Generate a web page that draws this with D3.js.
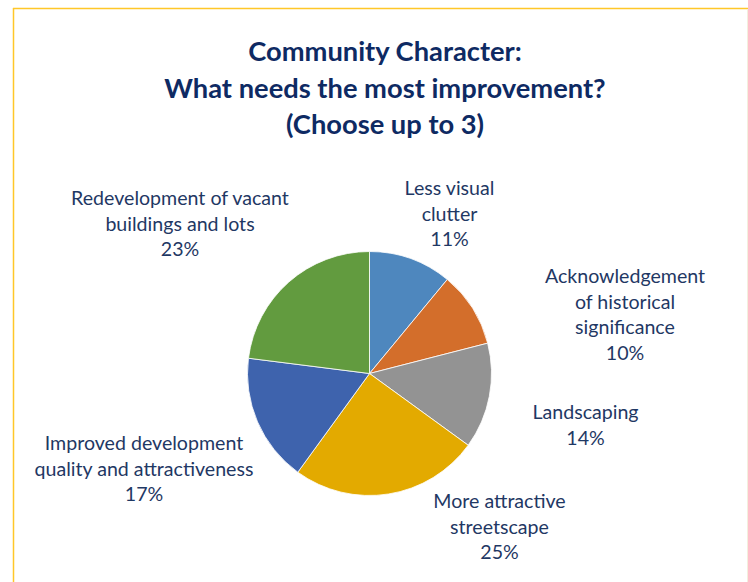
<!DOCTYPE html>
<html>
<head>
<meta charset="utf-8">
<script src="https://cdn.jsdelivr.net/npm/d3@7"></script>
<style>
  html, body { margin: 0; padding: 0; background: #fff; }
  svg { display: block; }
</style>
</head>
<body>
<svg id="chart" width="748" height="582"></svg>
<script>
// Survey answers, clockwise from 12 o'clock
const categories = [
  ["Less visual", "clutter"],
  ["Acknowledgement", "of historical", "significance"],
  ["Landscaping"],
  ["More attractive", "streetscape"],
  ["Improved development", "quality and attractiveness"],
  ["Redevelopment of vacant", "buildings and lots"]
];
const values = [11, 10, 14, 25, 17, 23];
const colors = ["#4E87BE", "#D36E2B", "#939393", "#E3AA00", "#3E63AD", "#629B3F"];
// Label anchor (centre x, first baseline y)
const labelPos = [
  [449.5, 195], [625, 283], [585.5, 419], [499.5, 508], [144, 450], [180, 205]
];
const titleLines = ["Community Character:", "What needs the most improvement?", "(Choose up to 3)"];

const svg = d3.select("#chart");

// frame
svg.append("line").attr("x1", 13.5).attr("x2", 13.5).attr("y1", 8).attr("y2", 582)
  .attr("stroke", "#FFC729").attr("stroke-width", 1.5);
svg.append("line").attr("x1", 13).attr("x2", 748).attr("y1", 8.5).attr("y2", 8.5)
  .attr("stroke", "#FFC729").attr("stroke-width", 1.5);
svg.append("line").attr("x1", 747.5).attr("x2", 747.5).attr("y1", 9).attr("y2", 582)
  .attr("stroke", "#F3EFDD").attr("stroke-width", 1);

// title
svg.append("g").selectAll("text").data(titleLines).join("text")
  .attr("x", 385).attr("y", (d, i) => 61 + i * 36.5)
  .attr("text-anchor", "middle")
  .attr("font-family", "Lato, 'Open Sans', sans-serif")
  .attr("font-weight", 700).attr("font-size", 27.3)
  .attr("fill", "#0E2A63")
  .text(d => d);

// pie
const cx = 369.5, cy = 373.5, r = 122;
const pie = d3.pie().sort(null).value(d => d)(values);
const arc = d3.arc().innerRadius(0).outerRadius(r);
const g = svg.append("g").attr("transform", `translate(${cx},${cy})`);
g.selectAll("path").data(pie).join("path")
  .attr("d", arc)
  .attr("fill", (d, i) => colors[i])
  .attr("stroke", "#fff").attr("stroke-width", 0.8);

// labels
const labels = svg.append("g")
  .attr("font-family", "Lato, 'Open Sans', sans-serif")
  .attr("font-size", 19.6).attr("fill", "#1F3864")
  .attr("text-anchor", "middle");
categories.forEach((lines, i) => {
  const t = labels.append("text");
  const all = lines.concat([values[i] + "%"]);
  all.forEach((ln, j) => {
    t.append("tspan").attr("x", labelPos[i][0]).attr("y", labelPos[i][1] + j * 25.5).text(ln);
  });
});
</script>
</body>
</html>
